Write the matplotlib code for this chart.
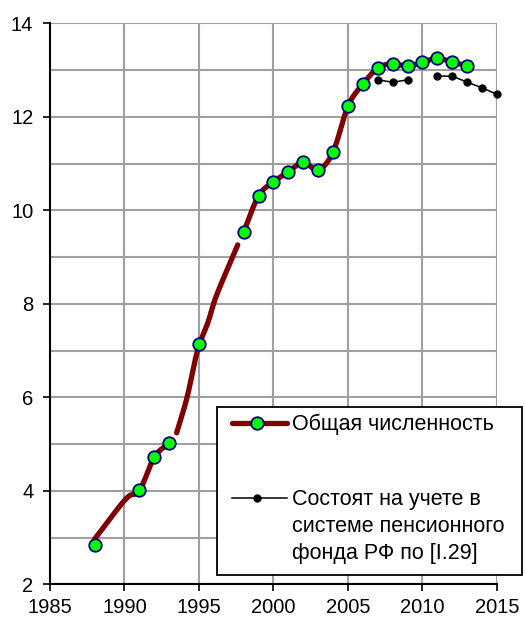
import numpy as np
import matplotlib
matplotlib.use('Agg')
import matplotlib.pyplot as plt
from matplotlib.patches import Rectangle
from matplotlib.lines import Line2D

plt.rcParams['font.family'] = ['Liberation Sans', 'DejaVu Sans']

# Общая численность: points (markers)
total_years = [1988, 1991, 1992, 1993, 1995, 1998, 1999, 2000, 2001, 2002, 2003,
               2004, 2005, 2006, 2007, 2008, 2009, 2010, 2011, 2012, 2013]
total_vals = [2.83, 4.02, 4.72, 5.02, 7.15, 9.54, 10.31, 10.61, 10.82, 11.03, 10.86,
              11.25, 12.23, 12.70, 13.04, 13.14, 13.08, 13.17, 13.25, 13.17, 13.09]

# smoothed curve of the same series (with gaps, as in the source)
curve_years = [1988, 1990.1, 1991, 1992, 1993, np.nan,
               1993.5, 1994.2, 1994.9, 1995.6, 1996.2, 1997.6, np.nan,
               1998, 1999, 2000, 2001, 2002, 2003, 2004, 2005, 2006, 2007,
               2008, 2009, 2010, 2011, 2012, 2013]
curve_vals = [2.97, 3.83, 4.0, 4.72, 5.02, np.nan,
              5.24, 6.0, 7.0, 7.6, 8.2, 9.26, np.nan,
              9.54, 10.31, 10.61, 10.82, 11.03, 10.86, 11.25, 12.23, 12.70, 13.04,
              13.14, 13.08, 13.17, 13.25, 13.17, 13.09]

# Состоят на учете в системе ПФР
pfr_years = [2007, 2008, 2009, 2010, 2011, 2012, 2013, 2014, 2015]
pfr_vals = [12.79, 12.74, 12.79, np.nan, 12.87, 12.87, 12.74, 12.62, 12.48]

LINE_RED = '#800000'
GREEN = '#00FF00'
NAVY = '#000080'


def smooth(xs, ys, yscale=3.14, n=20):
    """Catmull-Rom smoothing for each run between NaN gaps."""
    xs = np.asarray(xs, float); ys = np.asarray(ys, float)
    out_x, out_y = [], []
    breaks = np.where(np.isnan(xs))[0]
    starts = np.r_[0, breaks + 1]; ends = np.r_[breaks, len(xs)]
    for s, e in zip(starts, ends):
        px = xs[s:e]; py = ys[s:e] * yscale
        if len(px) < 3:
            out_x += list(px) + [np.nan]; out_y += list(py / yscale) + [np.nan]
            continue
        P = np.c_[px, py]
        P = np.vstack([2 * P[0] - P[1], P, 2 * P[-1] - P[-2]])
        for i in range(1, len(P) - 2):
            p0, p1, p2, p3 = P[i - 1], P[i], P[i + 1], P[i + 2]
            t = np.linspace(0, 1, n)[:, None]
            seg = 0.5 * ((2 * p1) + (-p0 + p2) * t + (2 * p0 - 5 * p1 + 4 * p2 - p3) * t ** 2
                         + (-p0 + 3 * p1 - 3 * p2 + p3) * t ** 3)
            out_x += list(seg[:, 0]); out_y += list(seg[:, 1] / yscale)
        out_x.append(np.nan); out_y.append(np.nan)
    return np.array(out_x), np.array(out_y)


fig = plt.figure(figsize=(5.26, 6.19), dpi=100)
ax = fig.add_axes([50 / 526, 1 - 584.3 / 619, 447 / 526, 561 / 619])

ax.set_xlim(1985, 2015)
ax.set_ylim(2, 14)
ax.set_xticks(range(1985, 2016, 5))
ax.set_yticks(range(2, 15, 2))
ax.set_yticks(range(3, 14, 2), minor=True)
ax.grid(True, which='both', axis='y', color='#A0A0A0', linewidth=1.5)
ax.grid(True, which='major', axis='x', color='#A0A0A0', linewidth=1.5)
ax.set_axisbelow(True)
ax.tick_params(axis='y', which='minor', length=0)
ax.tick_params(axis='both', which='major', labelsize=14.5, length=5, width=1.2, color='black')
ax.tick_params(axis='x', pad=5)
ax.tick_params(axis='y', pad=7)
for side in ['top', 'right']:
    ax.spines[side].set_visible(False)
for side in ['left', 'bottom']:
    ax.spines[side].set_linewidth(1.5)
    ax.spines[side].set_zorder(3)

cx, cy = smooth(curve_years, curve_vals)
ax.plot(cx, cy, color=LINE_RED, linewidth=3.8, solid_capstyle='round', zorder=3)
ax.plot(total_years, total_vals, linestyle='none', marker='o', markersize=9,
        markerfacecolor=GREEN, markeredgecolor=NAVY, markeredgewidth=1.3, zorder=4)
ax.plot(pfr_years, pfr_vals, color='black', linewidth=1.1, marker='o', markersize=5,
        zorder=4, clip_on=False)

# legend drawn by hand (handle aligned with first text line)
tr = ax.transAxes
def fx(px):
    return (px - 50) / 447
def fy(py):
    return (584.3 - py) / 561

ax.add_patch(Rectangle((fx(216.7), fy(575)), fx(521.7) - fx(216.7), fy(406.7) - fy(575),
                       transform=tr, facecolor='white', edgecolor='black', linewidth=1.3,
                       clip_on=False, zorder=6))
ax.add_line(Line2D([fx(232), fx(287)], [fy(423), fy(423)], transform=tr, color=LINE_RED,
                   linewidth=3.8, solid_capstyle='round', clip_on=False, zorder=7))
ax.add_line(Line2D([fx(257.3)], [fy(423)], transform=tr, linestyle='none', marker='o',
                   markersize=9, markerfacecolor=GREEN, markeredgecolor=NAVY,
                   markeredgewidth=1.3, clip_on=False, zorder=8))
ax.text(fx(292.5), fy(424), 'Общая численность', transform=tr, fontsize=15.5,
        ha='left', va='center', zorder=8)
ax.add_line(Line2D([fx(232), fx(287)], [fy(498), fy(498)], transform=tr, color='black',
                   linewidth=1.1, clip_on=False, zorder=7))
ax.add_line(Line2D([fx(257.3)], [fy(498)], transform=tr, linestyle='none', marker='o',
                   markersize=5, color='black', clip_on=False, zorder=8))
ax.text(fx(292.5), fy(489.5), 'Состоят на учете в\nсистеме пенсионного\nфонда РФ по [I.29]',
        transform=tr, fontsize=15.5, ha='left', va='top', linespacing=1.36, zorder=8)

fig.savefig('out.png', dpi=100)
